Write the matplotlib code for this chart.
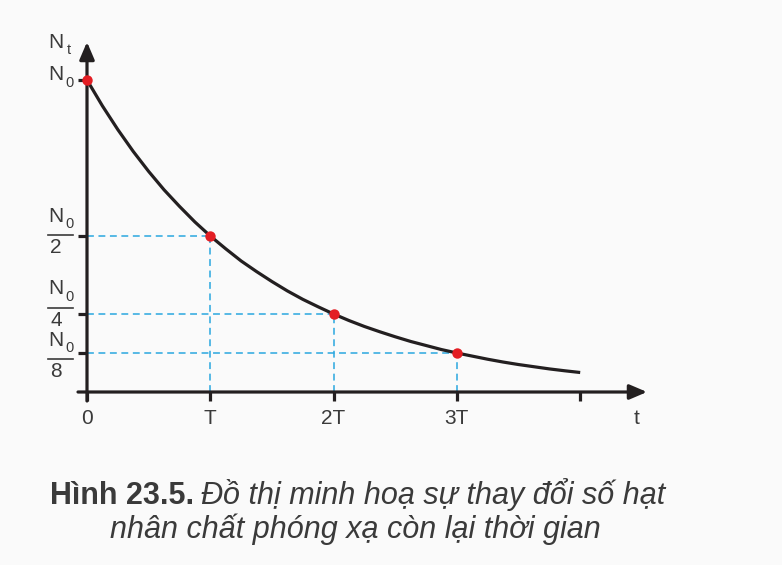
import matplotlib
matplotlib.use("Agg")
import matplotlib.pyplot as plt

# ---- data ----
t_points = [0, 1, 2, 3]                 # in units of T
n_points = [1.0, 0.5, 0.25, 0.125]      # in units of N0
x_tick_vals = [0, 1, 2, 3, 4]
x_tick_labels = ["0", "T", "2T", "3T", ""]
y_frac_vals = [0.5, 0.25, 0.125]
y_frac_dens = ["2", "4", "8"]
# decay curve at steps of T/8
curve_t = [k / 8 for k in range(33)]
curve_n = [1.0, 0.917, 0.841, 0.771, 0.707, 0.648, 0.595, 0.545,
           0.5, 0.459, 0.420, 0.386, 0.354, 0.324, 0.297, 0.273,
           0.25, 0.229, 0.210, 0.193, 0.177, 0.162, 0.149, 0.136,
           0.125, 0.115, 0.105, 0.096, 0.088, 0.081, 0.074, 0.068, 0.0625]

FONT = "Liberation Sans"
TXT = "#3a3a3a"
AX = "#231f20"
BLUE = "#2aa7df"
RED = "#e31e24"

W, H = 782, 565
fig = plt.figure(figsize=(W / 100, H / 100), dpi=100)
fig.patch.set_facecolor("#fafafa")
ax = fig.add_axes([0, 0, 1, 1])
ax.axis("off")
ax.set_facecolor("#fafafa")

ox, oy = 87, 392      # origin in pixels (from top-left)
xu, yu = 123.3, 312.0  # pixels per T, per N0
ax.set_xlim(-ox / xu, (W - ox) / xu)
ax.set_ylim(-(H - oy) / yu, oy / yu)

# axes lines with arrows
x_end = (647 - ox) / xu
y_end = (oy - 42) / yu
astyle = "-|>,head_length=0.75,head_width=0.32"
ax.annotate("", xy=(x_end, 0), xytext=(-9 / xu, 0),
            arrowprops=dict(arrowstyle=astyle, color=AX, lw=2.3,
                            shrinkA=0, shrinkB=0, mutation_scale=14),
            zorder=3)
ax.annotate("", xy=(0, y_end), xytext=(0, -9 / yu),
            arrowprops=dict(arrowstyle=astyle, color=AX, lw=2.3,
                            shrinkA=0, shrinkB=0, mutation_scale=14),
            zorder=3)

LFS = 15
# x ticks
for xv, lab in zip(x_tick_vals, x_tick_labels):
    ax.plot([xv, xv], [0, -9 / yu], color=AX, lw=2.3, solid_capstyle="butt", zorder=3)
    if lab:
        ax.annotate(lab, xy=(xv, 0), xytext=(0, -26), textcoords="offset pixels",
                    ha="center", va="center", fontsize=LFS, family=FONT, color=TXT)
ax.annotate("t", xy=(x_end, 0), xytext=(-10, -26), textcoords="offset pixels",
            ha="center", va="center", fontsize=LFS, family=FONT, color=TXT)

# y ticks
for yv in [1.0] + y_frac_vals:
    ax.plot([-9 / xu, 0], [yv, yv], color=AX, lw=2.3, solid_capstyle="butt", zorder=3)

def n_label(yv, dy_n, dx=-31, sub="0"):
    ax.annotate("N", xy=(0, yv), xytext=(dx, dy_n), textcoords="offset pixels",
                ha="center", va="center", fontsize=LFS, family=FONT, color=TXT)
    ax.annotate(sub, xy=(0, yv), xytext=(dx + 13, dy_n - 8), textcoords="offset pixels",
                ha="center", va="center", fontsize=10.5, family=FONT, color=TXT)

# N_t and N_0
n_label(y_end, 0, sub="t")
n_label(1.0, 5)

# fractions
frac_offsets = [1, 6, -6]
for yv, den, L in zip(y_frac_vals, y_frac_dens, frac_offsets):
    n_label(yv, L + 19)
    ypix = L / yu
    ax.plot([-39 / xu, -14 / xu], [yv + ypix, yv + ypix], color=TXT, lw=1.2)
    ax.annotate(den, xy=(0, yv), xytext=(-31, L - 12.5), textcoords="offset pixels",
                ha="center", va="center", fontsize=LFS, family=FONT, color=TXT)

# dashed guides
for tv, nv in zip(t_points[1:], n_points[1:]):
    ax.plot([0, tv], [nv, nv], color=BLUE, lw=1.1, ls=(0, (4.5, 3)), zorder=2)
    ax.plot([tv, tv], [0, nv], color=BLUE, lw=1.1, ls=(0, (4.5, 3)), zorder=2)

# decay curve
ax.plot(curve_t, curve_n, color=AX, lw=2.3, zorder=4, solid_capstyle="butt")
ax.plot(t_points, n_points, "o", color=RED, ms=7.5, mec="none", zorder=5)

# caption
CFS = 22
fig.canvas.draw()
r = fig.canvas.get_renderer()
t1 = fig.text(50 / W, 1 - 504 / H, "Hình 23.5.", fontsize=CFS, weight="bold",
              family=FONT, color=TXT, ha="left", va="baseline")
bb = t1.get_window_extent(r)
fig.text((bb.x1 + 7) / W, 1 - 504 / H, "Đồ thị minh hoạ sự thay đổi số hạt",
         fontsize=CFS, style="italic", family=FONT, color=TXT, ha="left", va="baseline")
fig.text(110 / W, 1 - 538 / H, "nhân chất phóng xạ còn lại thời gian",
         fontsize=CFS, style="italic", family=FONT, color=TXT, ha="left", va="baseline")

fig.savefig("out.png", dpi=100, facecolor=fig.get_facecolor())
